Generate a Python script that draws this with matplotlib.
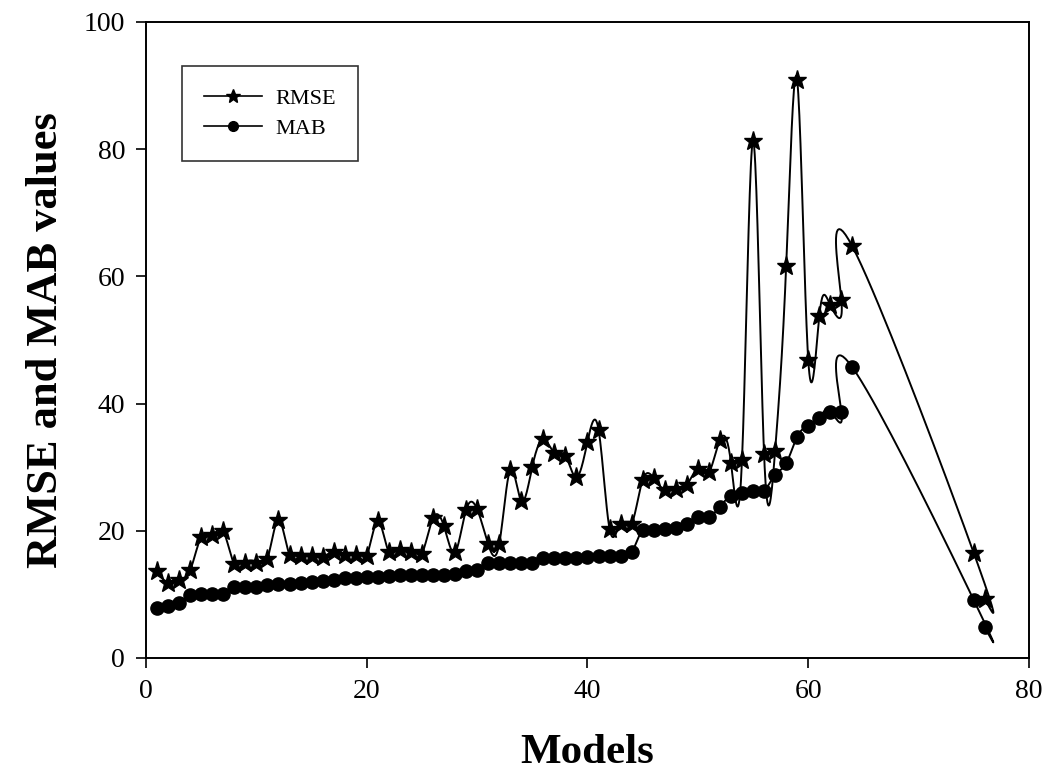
import numpy as np
import matplotlib
matplotlib.use('Agg')
import matplotlib.pyplot as plt
from matplotlib.lines import Line2D

models = list(range(1, 65)) + [75, 76]

rmse = [13.7, 11.8, 12.3, 13.8, 19.0, 19.4, 19.9, 14.7, 15.0, 15.0,
        15.6, 21.7, 16.2, 16.1, 16.1, 15.9, 16.7, 16.2, 16.2, 16.1,
        21.5, 16.6, 16.9, 16.7, 16.4, 22.0, 20.7, 16.6, 23.3, 23.4,
        17.9, 17.9, 29.6, 24.7, 30.1, 34.4, 32.3, 31.8, 28.4, 34.0,
        35.9, 20.3, 21.1, 21.1, 28.0, 28.3, 26.4, 26.5, 27.2, 29.7,
        29.2, 34.3, 30.7, 31.2, 81.3, 32.0, 32.6, 61.6, 90.8, 46.9,
        53.7, 55.5, 56.3, 64.7, 16.5, 9.3]

mab = [7.8, 8.2, 8.7, 9.9, 10.0, 10.0, 10.0, 11.1, 11.1, 11.2,
       11.5, 11.7, 11.7, 11.8, 12.0, 12.1, 12.3, 12.5, 12.5, 12.7,
       12.8, 12.9, 13.0, 13.0, 13.0, 13.1, 13.1, 13.2, 13.7, 13.9,
       14.9, 14.9, 14.9, 14.9, 15.0, 15.7, 15.7, 15.7, 15.7, 15.8,
       16.0, 16.0, 16.0, 16.6, 20.2, 20.2, 20.3, 20.5, 21.0, 22.2,
       22.2, 23.8, 25.5, 25.9, 26.2, 26.3, 28.8, 30.6, 34.8, 36.5,
       37.7, 38.7, 38.7, 45.7, 9.1, 4.8]

x_ticks = [0, 20, 40, 60, 80]
y_ticks = [0, 20, 40, 60, 80, 100]


def natural_spline(v, k=20):
	# natural cubic spline on uniform knots 0..n-1
	v = np.asarray(v, dtype=float)
	n = len(v)
	A = np.zeros((n, n))
	r = np.zeros(n)
	A[0, 0] = A[-1, -1] = 1.
	for i in range(1, n - 1):
		A[i, i - 1], A[i, i], A[i, i + 1] = 1., 4., 1.
		r[i] = 6 * (v[i + 1] - 2 * v[i] + v[i - 1])
	M = np.linalg.solve(A, r)
	out = []
	for i in range(n - 1):
		b = np.linspace(0, 1, k, endpoint=False)
		a = 1 - b
		out.append(M[i] * a**3 / 6 + M[i + 1] * b**3 / 6 + (v[i] - M[i] / 6) * a + (v[i + 1] - M[i + 1] / 6) * b)
	out.append([v[-1]])
	return np.concatenate(out)


def main():
	plt.rcParams['font.family'] = ['Liberation Serif', 'DejaVu Serif']
	fig = plt.figure(figsize=(10.62, 7.82), dpi=100)
	ax = fig.add_axes([0.1375, 0.1586, 0.8314, 0.8133])

	sx = natural_spline(models)
	ax.plot(sx, natural_spline(rmse), color='black', lw=1.4, zorder=2)
	ax.plot(sx, natural_spline(mab), color='black', lw=1.4, zorder=2)
	ax.plot(models, rmse, ls='none', marker='*', ms=14, color='black', zorder=3)
	ax.plot(models, mab, ls='none', marker='o', ms=9.5, color='black', zorder=3)

	ax.set_xlim(0, 80)
	ax.set_ylim(0, 100)
	ax.set_xticks(x_ticks)
	ax.set_yticks(y_ticks)
	ax.tick_params(direction='out', length=7, width=1.2, labelsize=20, pad=8,
		top=False, right=False)
	for s in ax.spines.values():
		s.set_linewidth(1.4)

	ax.set_xlabel('Models', fontsize=31, fontweight='bold', labelpad=22)
	ax.set_ylabel('RMSE and MAB values', fontsize=32, fontweight='bold', labelpad=13)

	handles = [Line2D([], [], color='black', lw=1.2, marker='*', ms=10),
		Line2D([], [], color='black', lw=1.2, marker='o', ms=7)]
	leg = ax.legend(handles, ['RMSE', 'MAB'], loc='upper left', bbox_to_anchor=(0.041, 0.93),
		fontsize=16, frameon=True, fancybox=False, handlelength=2.6, borderpad=1.0,
		labelspacing=0.4, borderaxespad=0, handletextpad=0.6)
	leg.get_frame().set_edgecolor('black')
	leg.get_frame().set_linewidth(1.2)

	fig.savefig('out.png', dpi=100)
	return 0


if __name__ == "__main__":
	main()
